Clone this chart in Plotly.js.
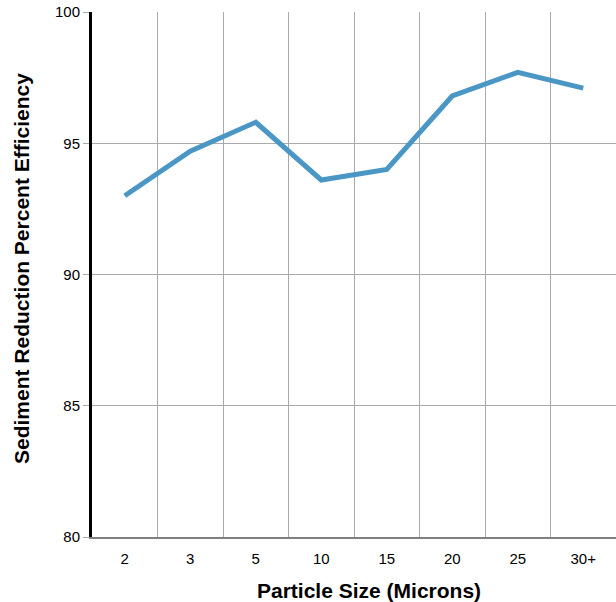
<!DOCTYPE html>
<html>
<head>
<meta charset="utf-8">
<script src="https://cdn.plot.ly/plotly-3.0.1.min.js"></script>
<style>html,body{margin:0;padding:0;background:#fff;}#chart{width:616px;height:602px;}</style>
</head>
<body>
<div id="chart"></div>
<script>
const particleSizes = ["2", "3", "5", "10", "15", "20", "25", "30+"];
const efficiency = [93.0, 94.7, 95.8, 93.6, 94.0, 96.8, 97.7, 97.1];
const yTicks = [80, 85, 90, 95, 100];
const xTitle = "Particle Size (Microns)";
const yTitle = "Sediment Reduction Percent Efficiency";

const trace = {
  type: "scatter",
  mode: "lines",
  x: particleSizes,
  y: efficiency,
  line: {color: "#4a97c5", width: 5},
  hoverinfo: "x+y"
};

const titleFont = {family: "Liberation Sans, Arial, sans-serif", size: 21, color: "#000"};

const layout = {
  width: 616,
  height: 602,
  margin: {l: 92, r: 0, t: 12, b: 65},
  paper_bgcolor: "#ffffff",
  plot_bgcolor: "#ffffff",
  showlegend: false,
  font: {family: "Liberation Sans, Arial, sans-serif", color: "#000"},
  xaxis: {
    type: "category",
    range: [-0.5, 7.5],
    tickson: "boundaries",
    showgrid: true,
    gridcolor: "#aaaaaa",
    gridwidth: 1,
    ticks: "",
    showline: true,
    linecolor: "#808080",
    linewidth: 2,
    zeroline: false,
    tickfont: {size: 15, color: "#000"},
    ticklabelstandoff: 7
  },
  yaxis: {
    range: [80, 100],
    tickvals: yTicks,
    ticktext: yTicks.map(String),
    showgrid: true,
    gridcolor: "#aaaaaa",
    gridwidth: 1,
    ticks: "outside",
    ticklen: 6,
    tickcolor: "#aaaaaa",
    showline: true,
    linecolor: "#000000",
    linewidth: 3,
    zeroline: false,
    tickfont: {size: 15, color: "#000"}
  },
  annotations: [
    {
      text: "<b>" + xTitle + "</b>",
      xref: "paper", yref: "paper",
      x: 0.5286, y: -0.101,
      xanchor: "center", yanchor: "middle",
      showarrow: false,
      font: titleFont
    },
    {
      text: "<b>" + yTitle + "</b>",
      xref: "paper", yref: "paper",
      x: -0.1336, y: 0.5124,
      xanchor: "center", yanchor: "middle",
      textangle: -90,
      showarrow: false,
      font: titleFont
    }
  ]
};

Plotly.newPlot("chart", [trace], layout, {displayModeBar: false, staticPlot: true});
</script>
</body>
</html>
